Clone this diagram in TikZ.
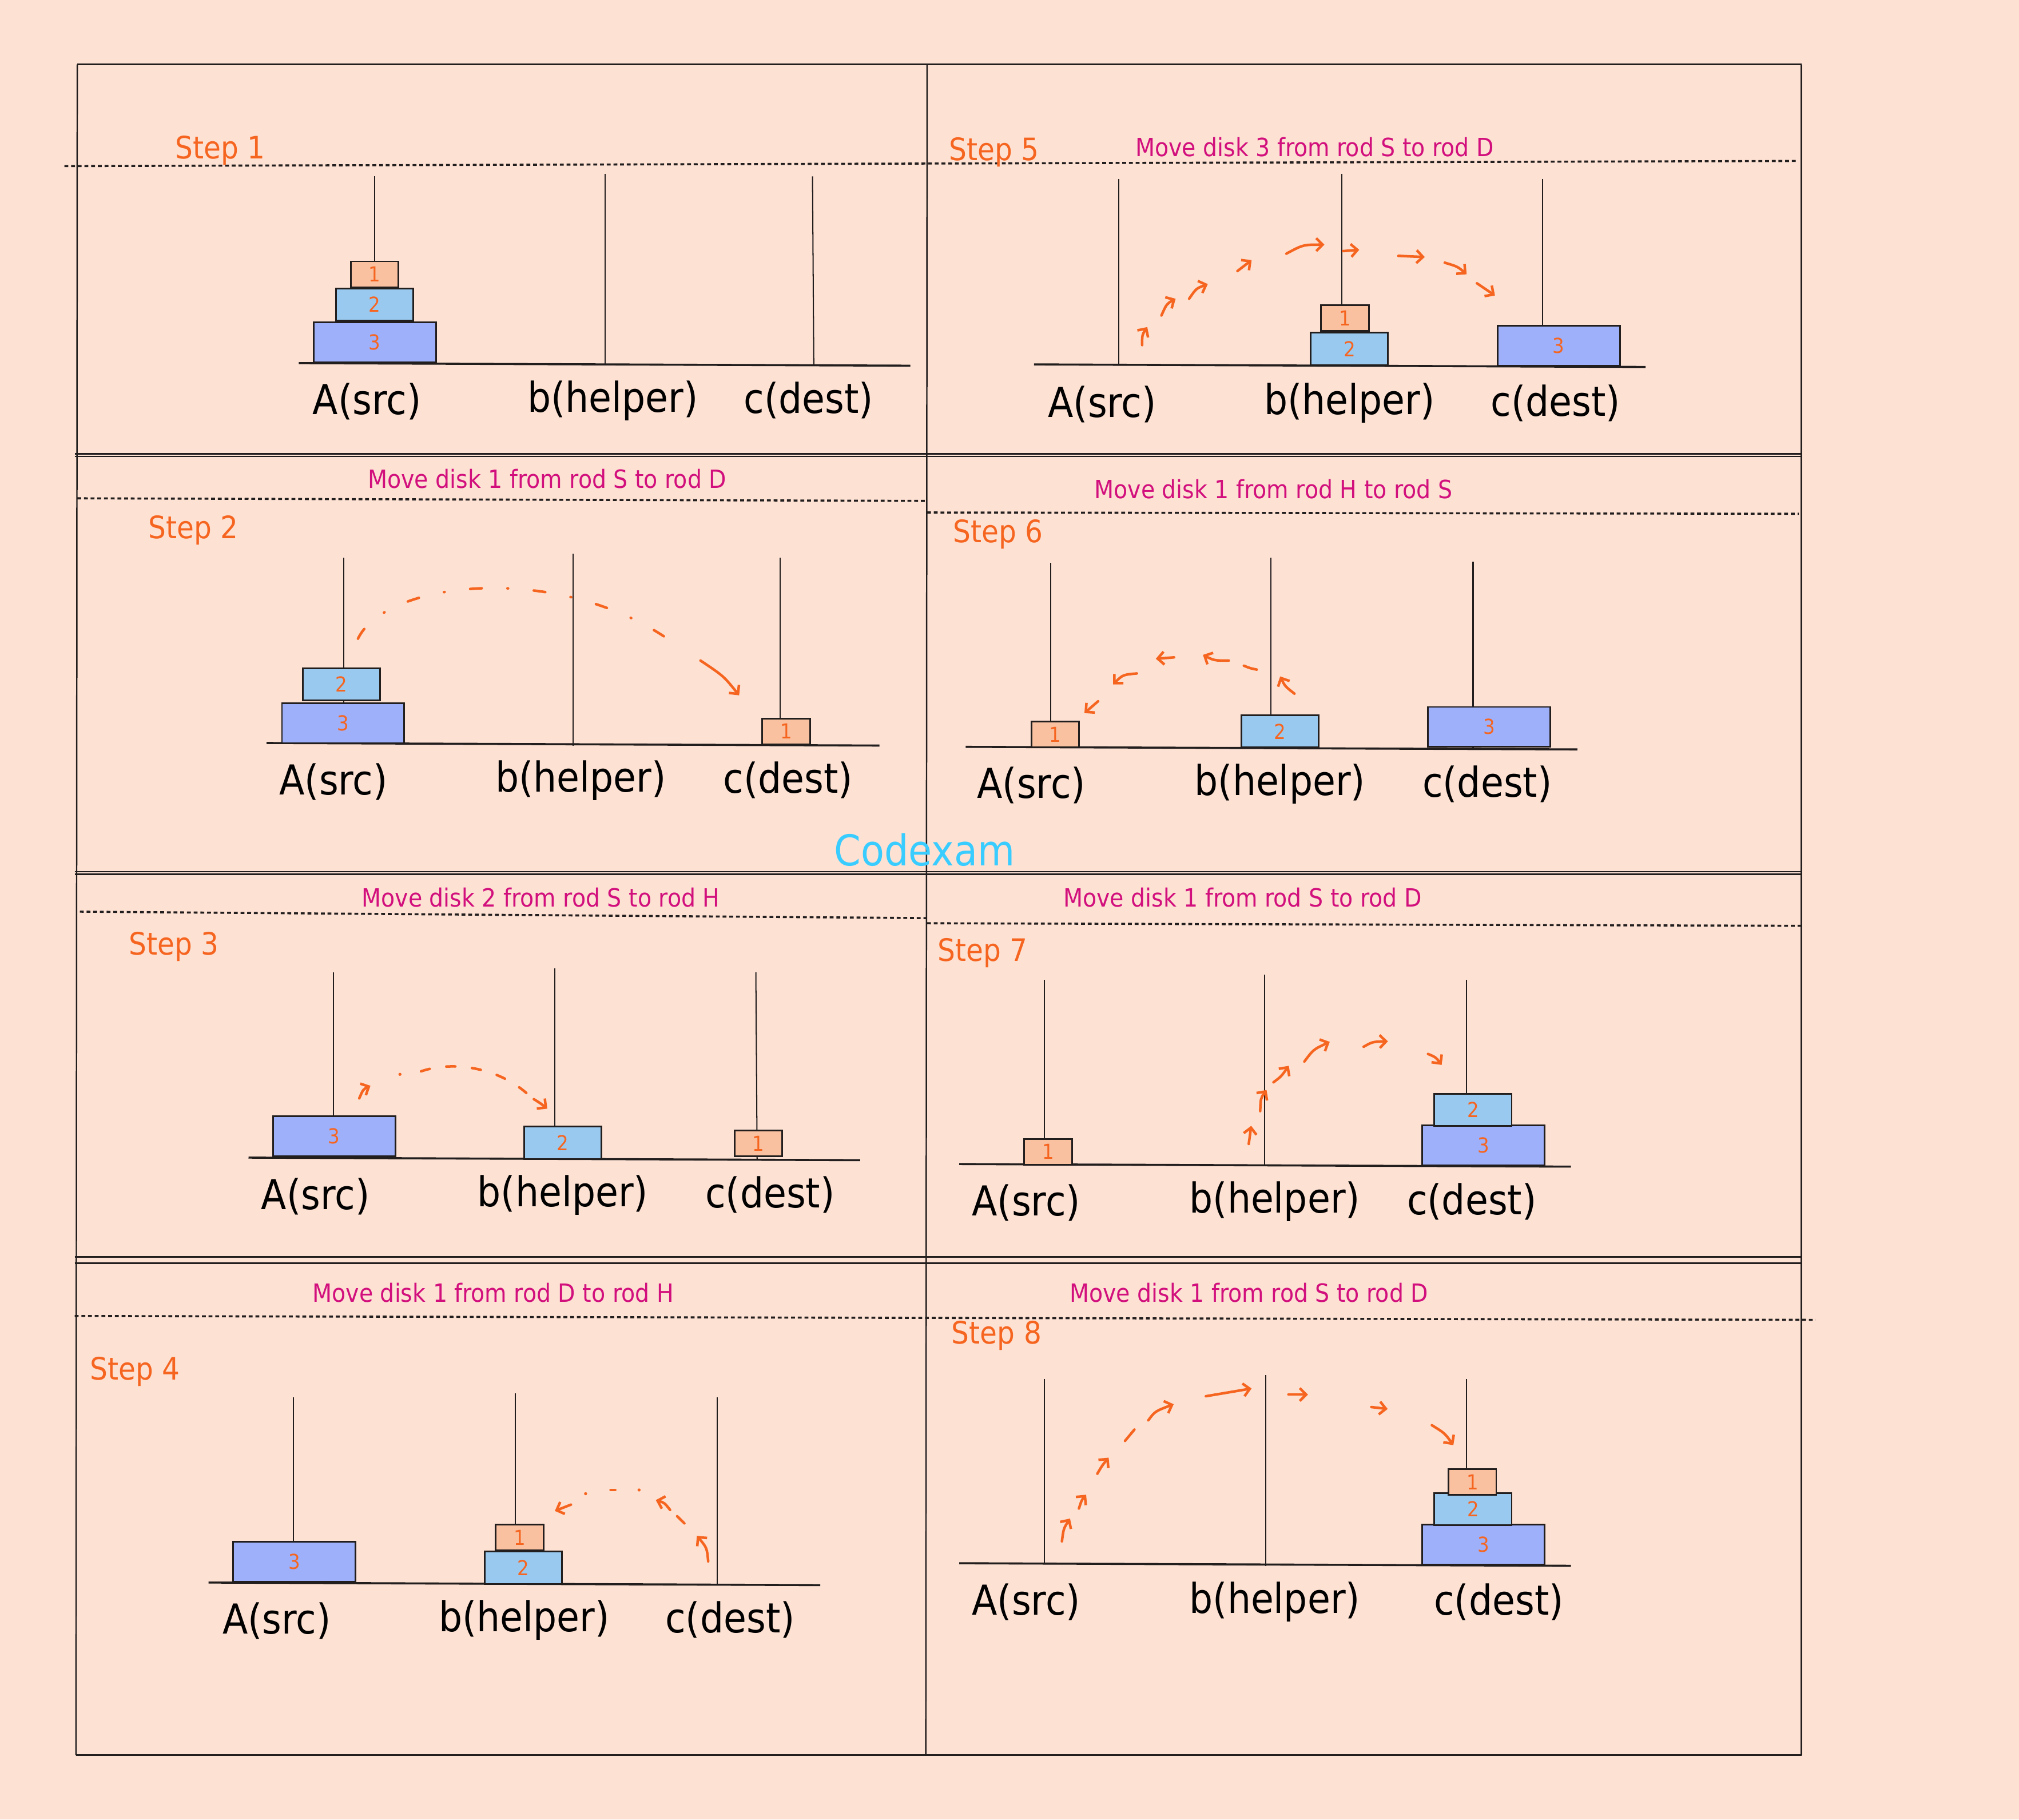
\documentclass[tikz,border=0pt]{standalone}
\usepackage{fontspec}
\setmainfont{DejaVu Sans Condensed}
\usetikzlibrary{arrows.meta}
\definecolor{bgc}{RGB}{253,225,211}
\definecolor{d1c}{RGB}{249,193,160}
\definecolor{d2c}{RGB}{153,201,239}
\definecolor{d3c}{RGB}{158,176,250}
\definecolor{orc}{RGB}{246,101,32}
\definecolor{mgc}{RGB}{210,16,125}
\definecolor{cyc}{RGB}{56,204,255}
\definecolor{linec}{RGB}{34,30,30}
\begin{document}
\begin{tikzpicture}[x=1pt,y=-1pt,
  frame/.style={draw=linec, line width=1.1pt},
  sep/.style={draw=linec, line width=1.6pt, dash pattern=on 3pt off 2.2pt},
  rod/.style={draw=linec, line width=0.9pt},
  base/.style={draw=linec, line width=1.6pt},
  disk/.style={draw=linec, line width=1.3pt, inner sep=0pt, text=orc, font=\fontsize{16}{16}\selectfont},
  dA/.style={disk, fill=d1c, minimum width=37pt, minimum height=20pt},
  dB/.style={disk, fill=d2c, minimum width=60pt, minimum height=25pt},
  dC/.style={disk, fill=d3c, minimum width=95pt, minimum height=31pt},
  lab/.style={font=\fontsize{32}{32}\selectfont, text=black, inner sep=0pt},
  steplab/.style={font=\fontsize{24}{24}\selectfont, text=orc, inner sep=0pt},
  mv/.style={font=\fontsize{19.5}{19.5}\selectfont, text=mgc, inner sep=0pt},
  arr/.style={draw=orc, line width=2pt, line cap=round, -{Straight Barb[length=5pt,width=10pt]}},
  dsh/.style={draw=orc, line width=2pt, line cap=round},
  dotm/.style={fill=orc}
]
\fill[bgc] (0,0) rectangle (1568,1413);
\useasboundingbox (0,0) rectangle (1568,1413);

% ---------- frame ----------
\draw[frame] (60,50) -- (1399,50);
\draw[frame] (60,50) -- (59,1363);
\draw[frame] (1399,50) -- (1399,1363);
\draw[frame] (59,1363) -- (1399,1363);
\draw[frame] (720,50) -- (719,1363);
\draw[frame] (58,352.5) -- (1399,352.5);
\draw[frame] (58,354.5) -- (1399,354.5);
\draw[frame] (58,677) -- (1399,677);
\draw[frame] (58,679) -- (1399,679);
\draw[frame] (58,976) -- (1399,976);
\draw[frame] (58,981) -- (1399,981);

% ---------- dashed separators ----------
\draw[sep] (50,129) -- (1395,125);
\draw[sep] (60,387) -- (720,389);
\draw[sep] (720,398) -- (1397,399);
\draw[sep] (62,708) -- (720,713);
\draw[sep] (720,717) -- (1400,719);
\draw[sep] (58,1022) -- (1410,1025);

% ================= Step 1 =================
\node[steplab] (s1) at (171,117) {Step 1};
\draw[rod] (291,137) -- (291,282);
\draw[rod] (470,135) -- (470,283);
\draw[rod] (631,137) -- (632,284);
\draw[base] (232,282) -- (707,284);
\node[dC] (p1c) at (291,266) {3};
\node[dB] (p1b) at (291,236.5) {2};
\node[dA] (p1a) at (291,213) {1};
\node[lab] (p1la) at (285,312) {A(src)};
\node[lab] (p1lb) at (476,311) {b(helper)};
\node[lab] (p1lc) at (628,311) {c(dest)};

% ================= Step 5 =================
\node[steplab] (s5) at (772,118) {Step 5};
\node[mv] (m5) at (1021,114) {Move disk 3 from rod S to rod D};
\draw[rod] (869,139) -- (869,283);
\draw[rod] (1042,135) -- (1042,284);
\draw[rod] (1198,139) -- (1198,285);
\draw[base] (803,283) -- (1278,285);
\node[dB] (p5b) at (1048,271) {2};
\node[dA] (p5a) at (1044.5,247) {1};
\node[dC] (p5c) at (1210.5,268.5) {3};
\node[lab] (p5la) at (856,314) {A(src)};
\node[lab] (p5lb) at (1048,313) {b(helper)};
\node[lab] (p5lc) at (1208,313) {c(dest)};
\draw[arr] (887,268) .. controls (887,260) .. (891,254);
\draw[arr] (902,245) .. controls (906,236) .. (913,232);
\draw[arr] (923.5,232) .. controls (929,224) .. (938,220.6);
\draw[arr] (961,210.5) -- (972,202);
\draw[arr] (999,197) .. controls (1012,190) .. (1028.6,190);
\draw[arr] (1043,195) -- (1055.6,194);
\draw[arr] (1086,198.7) -- (1106.5,199.6);
\draw[arr] (1122,204) .. controls (1132,207) .. (1139,213);
\draw[arr] (1147,220) .. controls (1153,224) .. (1161,229.5);

% ================= Step 2 =================
\node[mv] (m2) at (425,372) {Move disk 1 from rod S to rod D};
\node[steplab] (s2) at (150,412) {Step 2};
\draw[rod] (267,433) -- (267,578);
\draw[rod] (445,430) -- (445,579);
\draw[rod] (606,433) -- (606,579);
\draw[base] (207,577) -- (683,579);
\node[dC] (p2c) at (266.5,561.5) {3};
\node[dB] (p2b) at (265,531.5) {2};
\node[dA] (p2a) at (610.5,568) {1};
\node[lab] (p2la) at (259,607) {A(src)};
\node[lab] (p2lb) at (451,606) {b(helper)};
\node[lab] (p2lc) at (612,606) {c(dest)};
\draw[dsh, dash pattern=on 9pt off 20pt on 0.5pt off 20pt] (278,496) .. controls (300,450) and (440,435) .. (528,503);
\draw[arr] (544,513) .. controls (562,525) .. (574,540);

% ================= Step 6 =================
\node[mv] (m6) at (989,380) {Move disk 1 from rod H to rod S};
\node[steplab] (s6) at (775,415) {Step 6};
\draw[rod] (816,437) -- (816,581);
\draw[rod] (987,433) -- (987,582);
\draw[rod] (1144,436) -- (1144,582);
\draw[base] (750,580) -- (1225,582);
\node[dA] (p6a) at (819.5,570.5) {1};
\node[dB] (p6b) at (994,568) {2};
\node[dC] (p6c) at (1156.5,564.5) {3};
\node[lab] (p6la) at (801,610) {A(src)};
\node[lab] (p6lb) at (994,609) {b(helper)};
\node[lab] (p6lc) at (1155,609) {c(dest)};
\draw[arr] (1005.3,538.7) .. controls (998,533) .. (994.2,525.3);
\draw[dsh] (976,520) .. controls (971,519) .. (966,517);
\draw[arr] (954.3,513) .. controls (943,513) .. (934.2,508.6);
\draw[arr] (911.8,510.5) -- (897.6,511.6);
\draw[arr] (882.9,523) .. controls (872,524) .. (864.4,531.5);
\draw[arr] (852.8,544.6) -- (842.2,553.8);

% ---------- watermark ----------
\node[font=\fontsize{33}{33}\selectfont, text=cyc, inner sep=0pt] (wm) at (718,660) {Codexam};

% ================= Step 3 =================
\node[mv] (m3) at (420,697) {Move disk 2 from rod S to rod H};
\node[steplab] (s3) at (135,735) {Step 3};
\draw[rod] (259,755) -- (259,899);
\draw[rod] (431,752) -- (431,900);
\draw[rod] (587,755) -- (588,901);
\draw[base] (193,899) -- (668,901);
\node[dC] (p3c) at (259.5,882.5) {3};
\node[dB] (p3b) at (437,887.5) {2};
\node[dA] (p3a) at (589,888) {1};
\node[lab] (p3la) at (245,929) {A(src)};
\node[lab] (p3lb) at (437,928) {b(helper)};
\node[lab] (p3lc) at (598,928) {c(dest)};
\draw[arr] (279,853) .. controls (282,846) .. (287.7,843.2);
\fill[dotm] (310.6,834.3) circle (1.2pt);
\draw[dsh, dash pattern=on 7pt off 13pt] (327,832) .. controls (350,824) and (385,828) .. (409,849);
\draw[arr] (414.6,853.6) .. controls (420,857) .. (425,861);

% ================= Step 7 =================
\node[mv] (m7) at (965,697) {Move disk 1 from rod S to rod D};
\node[steplab] (s7) at (763,740) {Step 7};
\draw[rod] (811,761) -- (811,904);
\draw[rod] (982,757) -- (982,905);
\draw[rod] (1139,761) -- (1139,906);
\draw[base] (745,904) -- (1220,906);
\node[dA] (p7a) at (814,894.5) {1};
\node[dC] (p7c) at (1152,889.5) {3};
\node[dB] (p7b) at (1144,862) {2};
\node[lab] (p7la) at (797,934) {A(src)};
\node[lab] (p7lb) at (990,933) {b(helper)};
\node[lab] (p7lc) at (1143,933) {c(dest)};
\draw[arr] (969.8,888.4) -- (971.7,874.3);
\draw[arr] (978.7,862.9) .. controls (979,853) .. (983.6,846.5);
\draw[arr] (989,840.5) .. controls (995,836) .. (1000.9,827.7);
\draw[arr] (1013,824.4) .. controls (1020,815) .. (1032.7,809.1);
\draw[arr] (1059,812.9) .. controls (1066,809) .. (1077.9,808.7);
\draw[arr] (1109,818.5) .. controls (1115,821) .. (1119.6,827);

% ================= Step 4 =================
\node[mv] (m4) at (383,1004) {Move disk 1 from rod D to rod H};
\node[steplab] (s4) at (105,1065) {Step 4};
\draw[rod] (228,1085) -- (228,1229);
\draw[rod] (400,1082) -- (400,1230);
\draw[rod] (557,1085) -- (557,1231);
\draw[base] (162,1229) -- (637,1231);
\node[dC] (p4c) at (228.5,1213) {3};
\node[dB] (p4b) at (406.5,1217.5) {2};
\node[dA] (p4a) at (403.5,1194) {1};
\node[lab] (p4la) at (215,1259) {A(src)};
\node[lab] (p4lb) at (407,1258) {b(helper)};
\node[lab] (p4lc) at (567,1258) {c(dest)};
\draw[arr] (550,1212.6) .. controls (549,1202) .. (541.2,1192.7);
\draw[dsh] (531.5,1183) -- (525.9,1177.5);
\draw[arr] (520.4,1172.6) .. controls (516,1167) .. (509.3,1165);
\fill[dotm] (496.3,1157.1) circle (1.2pt);
\draw[dsh] (474.2,1157.1) -- (477.8,1157.1);
\fill[dotm] (454.8,1160) circle (1.2pt);
\draw[arr] (443.4,1168.5) -- (430.9,1173.4);

% ================= Step 8 =================
\node[mv] (m8) at (970,1004) {Move disk 1 from rod S to rod D};
\node[steplab] (s8) at (774,1037) {Step 8};
\draw[rod] (811,1071) -- (811,1215);
\draw[rod] (983,1068) -- (983,1216);
\draw[rod] (1139,1071) -- (1139,1216);
\draw[base] (745,1214) -- (1220,1216);
\node[dC] (p8c) at (1152,1199.5) {3};
\node[dB] (p8b) at (1144,1172) {2};
\node[dA] (p8a) at (1143.5,1151) {1};
\node[lab] (p8la) at (797,1244) {A(src)};
\node[lab] (p8lb) at (990,1244) {b(helper)};
\node[lab] (p8lc) at (1164,1244) {c(dest)};
\draw[arr] (824.7,1197) .. controls (826,1187) .. (831,1179.3);
\draw[arr] (837.9,1171.5) .. controls (840,1165) .. (843.5,1160.8);
\draw[arr] (852.2,1144.5) .. controls (856,1138) .. (861,1132);
\draw[dsh] (873.7,1119) -- (881,1110.2);
\draw[arr] (891.8,1103) .. controls (897,1096) .. (911.5,1090.5);
\draw[arr] (936.5,1084.3) -- (972,1078.3);
\draw[arr] (1000.6,1083) -- (1015.8,1083);
\draw[arr] (1065,1092.7) -- (1077.7,1094.2);
\draw[arr] (1112,1106.8) .. controls (1122,1113) .. (1128.7,1122.3);
\end{tikzpicture}
\end{document}
